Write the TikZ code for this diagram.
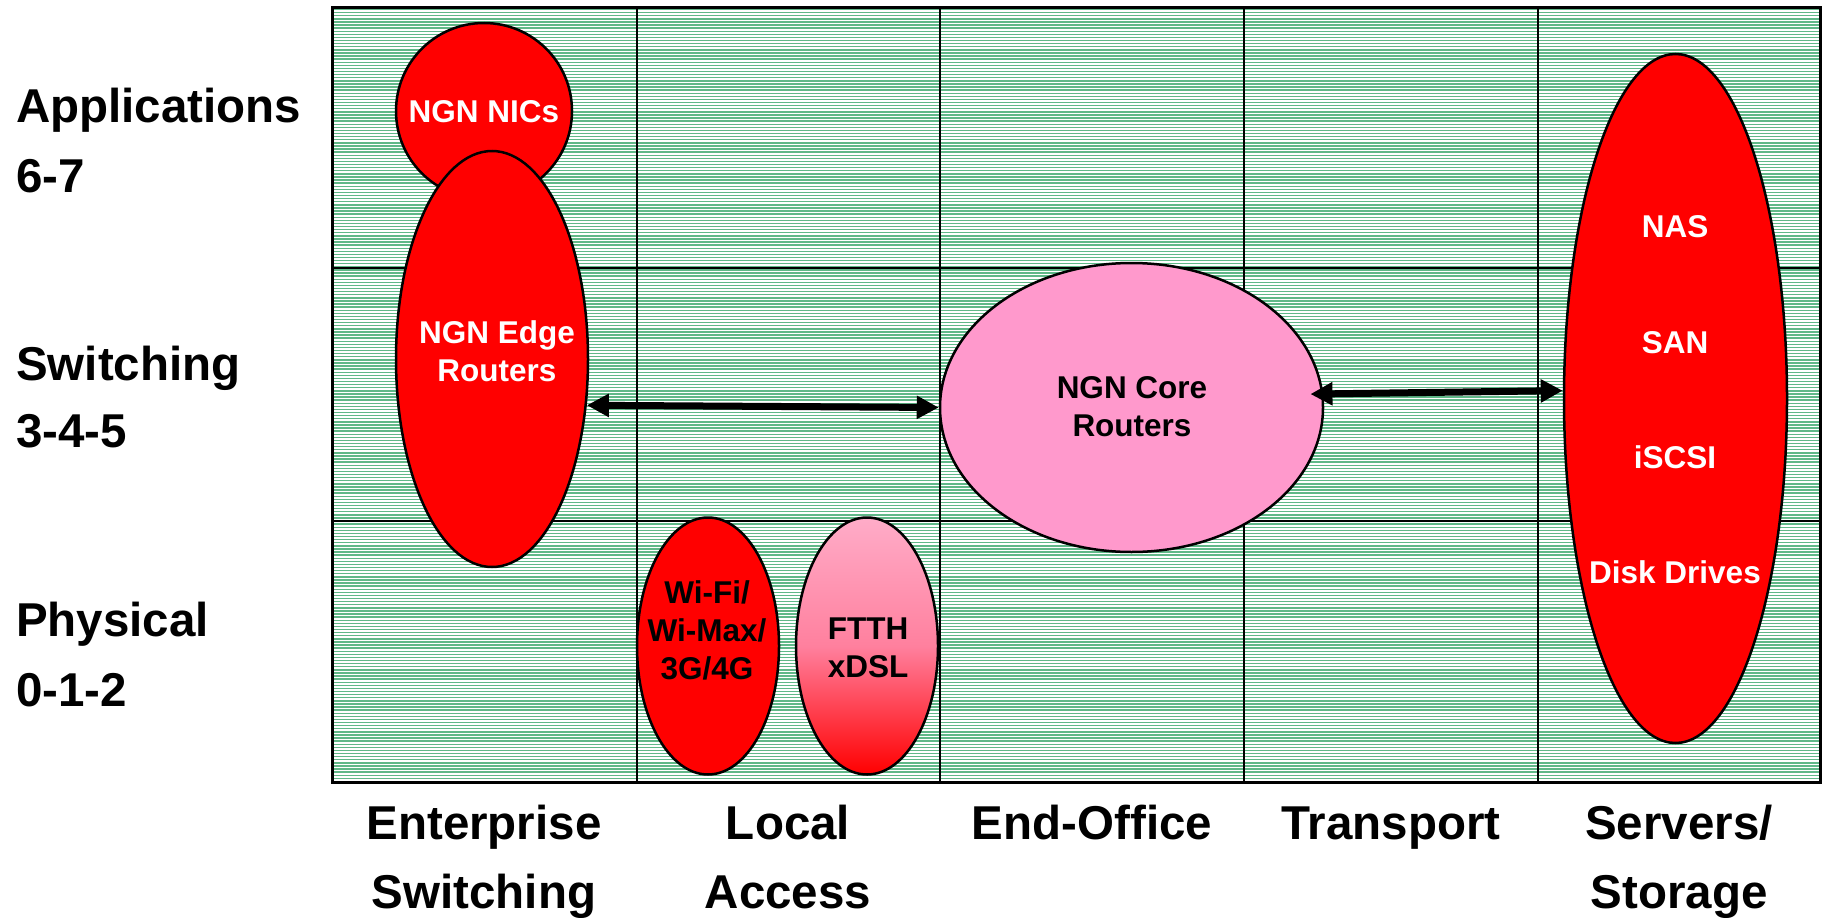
\documentclass[tikz,border=0pt]{standalone}
\usepackage{fontspec}
\setmainfont{Liberation Sans}
\usetikzlibrary{arrows.meta,shapes.geometric}
\definecolor{hatch}{RGB}{96,184,136}
\definecolor{corepink}{RGB}{255,153,204}
\definecolor{ftthtop}{RGB}{255,172,200}
\definecolor{ftthmid}{RGB}{255,128,158}
\begin{document}
\begin{tikzpicture}[x=1pt,y=-1pt,
  blob/.style={ellipse, draw=black, line width=2.5pt, inner sep=0pt},
  intext/.style={font=\fontsize{31.5}{38}\selectfont\bfseries, align=center, inner sep=0pt},
  lbl/.style={font=\fontsize{47.5}{57}\selectfont\bfseries, inner sep=0pt},
  gridline/.style={line width=2pt},
  dbl/.style={line width=7pt, {Triangle[length=22pt,width=22pt]}-{Triangle[length=22pt,width=22pt]}}]
\useasboundingbox (0,0) rectangle (1823,918);
\fill[white] (0,0) rectangle (1823,918);
% hatched background
\foreach \yy in {9.5,12.6,...,780} {\draw[hatch,line width=1.4pt] (332,\yy) -- (1820,\yy);}
% grid
\foreach \xx in {637,940,1244,1538} {\draw[gridline] (\xx,7) -- (\xx,782);}
\foreach \yy in {268,521} {\draw[gridline] (332,\yy) -- (1820,\yy);}
\draw[line width=3pt] (332,7) rectangle (1820,782);
% ellipses
\node[blob, fill=red, minimum width=176pt, minimum height=176pt] (nics) at (484,111) {};
\node[blob, fill=red, minimum width=192pt, minimum height=416pt] (edge) at (492,359) {};
\node[blob, fill=red, minimum width=142pt, minimum height=257pt] (wifi) at (708,646) {};
\node[blob, top color=ftthtop, bottom color=red, middle color=ftthmid, minimum width=142pt, minimum height=257pt] (ftth) at (867,646) {};
\node[blob, fill=corepink, minimum width=383pt, minimum height=289pt] (core) at (1131.5,407.5) {};
\node[blob, fill=red, minimum width=223pt, minimum height=689pt] (servers) at (1675.5,398.5) {};
% texts inside
\node[intext, text=white] (nicsT) at (484,112) {NGN NICs};
\node[intext, text=white] (edgeT) at (497,351) {NGN Edge\\Routers};
\node[intext] (wifiT) at (707,630) {Wi-Fi/\\Wi-Max/\\3G/4G};
\node[intext] (ftthT) at (868,648) {FTTH\\xDSL};
\node[intext] (coreT) at (1132,407) {NGN Core\\Routers};
\node[intext, text=white, font=\fontsize{31.5}{115.3}\selectfont\bfseries] (serversT) at (1675,400) {NAS\\SAN\\iSCSI\\Disk Drives};
% arrows
\draw[dbl] (edge.-26.7) -- (core.west);
\draw[dbl] ([xshift=-13pt]core.4.35) -- (servers.176.2);
% row labels
\node[lbl, anchor=base west] (appA) at (16,122) {Applications};
\node[lbl, anchor=base west] (appB) at (16,192) {6-7};
\node[lbl, anchor=base west] (swA) at (16,380) {Switching};
\node[lbl, anchor=base west] (swB) at (16,447) {3-4-5};
\node[lbl, anchor=base west] (phA) at (16,636) {Physical};
\node[lbl, anchor=base west] (phB) at (16,706) {0-1-2};
% column labels
\node[lbl, anchor=base] (c1a) at (484,839) {Enterprise};
\node[lbl, anchor=base] (c1b) at (484,908) {Switching};
\node[lbl, anchor=base] (c2a) at (788,839) {Local};
\node[lbl, anchor=base] (c2b) at (788,908) {Access};
\node[lbl, anchor=base] (c3) at (1092,839) {End-Office};
\node[lbl, anchor=base] (c4) at (1391,839) {Transport};
\node[lbl, anchor=base] (c5a) at (1679,839) {Servers/};
\node[lbl, anchor=base] (c5b) at (1679,908) {Storage};
\end{tikzpicture}
\end{document}
